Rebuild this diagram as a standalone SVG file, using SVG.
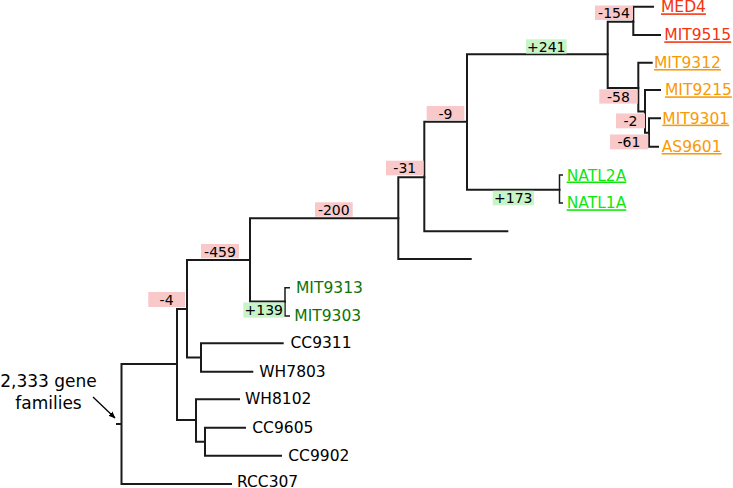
<svg xmlns="http://www.w3.org/2000/svg" width="733" height="488" viewBox="0 0 733 488">
<defs>
<style>
.br{stroke:#1a1a1a;stroke-width:2;fill:none;stroke-linecap:square}
.tk{stroke:#1a1a1a;stroke-width:1.5;fill:none}
text{font-family:"DejaVu Sans",sans-serif}
.leaf{font-size:15.5px;fill:#000}
.lbl{font-size:14px;fill:#000;text-anchor:middle}
.neg{fill:#f9c8c8}
.pos{fill:#c8f5c8}
.red{fill:#f5330f;text-decoration:underline}
.org{fill:#f99a05;text-decoration:underline}
.lgr{fill:#0ee80e;text-decoration:underline}
.dgr{fill:#0a740a}
</style>
<marker id="ah" viewBox="0 0 10 10" refX="9" refY="5" markerWidth="7" markerHeight="7" orient="auto" markerUnits="userSpaceOnUse">
<path d="M0,1 L10,5 L0,9 z" fill="#000"/>
</marker>
</defs>
<rect width="733" height="488" fill="#fff"/>
<g id="connectors">
<path class="br" d="M117,424 H121.5 M121.5,364 V484 M121.5,364 H177 M121.5,484 H231"/>
<path class="br" d="M177,309 V420 M177,309 H187 M177,420 H196"/>
<path class="br" d="M187,260 V357.5 M187,260 H250 M187,357.5 H201"/>
<path class="br" d="M201,343.3 V371.7 M201,343.3 H282.7 M201,371.7 H252.3"/>
<path class="br" d="M196,399.3 V441.7 M196,399.3 H239 M196,441.7 H205"/>
<path class="br" d="M205,427.7 V455.7 M205,427.7 H245 M205,455.7 H281"/>
<path class="br" d="M250,218.3 V301.5 M250,218.3 H398.3 M250,301.5 H285"/>
<path class="tk" d="M290,287.7 H285 V316 H290"/>
<path class="br" d="M398.3,177.3 V259 M398.3,177.3 H424.3 M398.3,259 H470.7"/>
<path class="br" d="M424.3,121.7 V231.3 M424.3,121.7 H467 M424.3,231.3 H507.3"/>
<path class="br" d="M467,54.3 V189.7 M467,54.3 H607.7 M467,189.7 H559.5"/>
<path class="tk" d="M563,175 H559.5 V203 H563"/>
<path class="br" d="M607.7,21.7 V88 M607.7,21.7 H633.3 M607.7,88 H638.3"/>
<path class="br" d="M633.3,6.7 V35 M633.3,6.7 H653 M633.3,35 H660"/>
<path class="br" d="M638.3,62.7 V111.5 M638.3,62.7 H651.7 M638.3,111.5 H645"/>
<path class="br" d="M645,90 V132.7 M645,90 H660 M645,132.7 H649"/>
<path class="br" d="M649,118.3 V146.7 M649,118.3 H660 M649,146.7 H658"/>
<line x1="93" y1="397" x2="115" y2="418" stroke="#000" stroke-width="1.3" marker-end="url(#ah)"/>
</g>
<g id="root-label">
<text x="48.5" y="387" font-size="17" text-anchor="middle">2,333 gene</text>
<text x="48.5" y="408.5" font-size="17" text-anchor="middle">families</text>
</g>
<g id="n-m154"><rect class="neg" x="595" y="5.5" width="38" height="14.5"/><text class="lbl" x="614" y="18">-154</text></g>
<g id="n-p241"><rect class="pos" x="526" y="39.3" width="40.7" height="14.3"/><text class="lbl" x="546.3" y="51.8">+241</text></g>
<g id="n-m58"><rect class="neg" x="599.3" y="89.3" width="38.4" height="14.3"/><text class="lbl" x="618.5" y="101.8">-58</text></g>
<g id="n-m2"><rect class="neg" x="616" y="113.5" width="29" height="14.8"/><text class="lbl" x="630.5" y="126">-2</text></g>
<g id="n-m61"><rect class="neg" x="610" y="134.5" width="38.3" height="14.8"/><text class="lbl" x="629" y="147">-61</text></g>
<g id="n-m9"><rect class="neg" x="426.7" y="106" width="37.6" height="14.3"/><text class="lbl" x="445.5" y="118.5">-9</text></g>
<g id="n-m31"><rect class="neg" x="386" y="160.7" width="37.7" height="14.6"/><text class="lbl" x="404.8" y="173.2">-31</text></g>
<g id="n-p173"><rect class="pos" x="492.7" y="190.7" width="41.3" height="14.6"/><text class="lbl" x="513.3" y="203.2">+173</text></g>
<g id="n-m200"><rect class="neg" x="315" y="202.3" width="37.7" height="14.4"/><text class="lbl" x="333.8" y="214.8">-200</text></g>
<g id="n-m459"><rect class="neg" x="201" y="244" width="38" height="14.3"/><text class="lbl" x="220" y="256.6">-459</text></g>
<g id="n-p139"><rect class="pos" x="243.3" y="302.5" width="41" height="15.2"/><text class="lbl" x="263.8" y="315.2">+139</text></g>
<g id="n-m4"><rect class="neg" x="148.3" y="292" width="36.7" height="15"/><text class="lbl" x="166.6" y="304.6">-4</text></g>
<g id="leaf-MED4"><text class="leaf red" x="661" y="12.3">MED4</text></g>
<g id="leaf-MIT9515"><text class="leaf red" x="664.3" y="40.3">MIT9515</text></g>
<g id="leaf-MIT9312"><text class="leaf org" x="654" y="68">MIT9312</text></g>
<g id="leaf-MIT9215"><text class="leaf org" x="665" y="95.3">MIT9215</text></g>
<g id="leaf-MIT9301"><text class="leaf org" x="662.3" y="123.6">MIT9301</text></g>
<g id="leaf-AS9601"><text class="leaf org" x="661.7" y="152">AS9601</text></g>
<g id="leaf-NATL2A"><text class="leaf lgr" x="566.7" y="180.5">NATL2A</text></g>
<g id="leaf-NATL1A"><text class="leaf lgr" x="566.7" y="208.3">NATL1A</text></g>
<g id="leaf-MIT9313"><text class="leaf dgr" x="296" y="292.7">MIT9313</text></g>
<g id="leaf-MIT9303"><text class="leaf dgr" x="294.3" y="320.5">MIT9303</text></g>
<g id="leaf-CC9311"><text class="leaf" x="290.5" y="348.3">CC9311</text></g>
<g id="leaf-WH7803"><text class="leaf" x="259.3" y="376.7">WH7803</text></g>
<g id="leaf-WH8102"><text class="leaf" x="245" y="404.3">WH8102</text></g>
<g id="leaf-CC9605"><text class="leaf" x="252.3" y="432.7">CC9605</text></g>
<g id="leaf-CC9902"><text class="leaf" x="288.3" y="460.7">CC9902</text></g>
<g id="leaf-RCC307"><text class="leaf" x="237" y="487.3">RCC307</text></g>
</svg>
